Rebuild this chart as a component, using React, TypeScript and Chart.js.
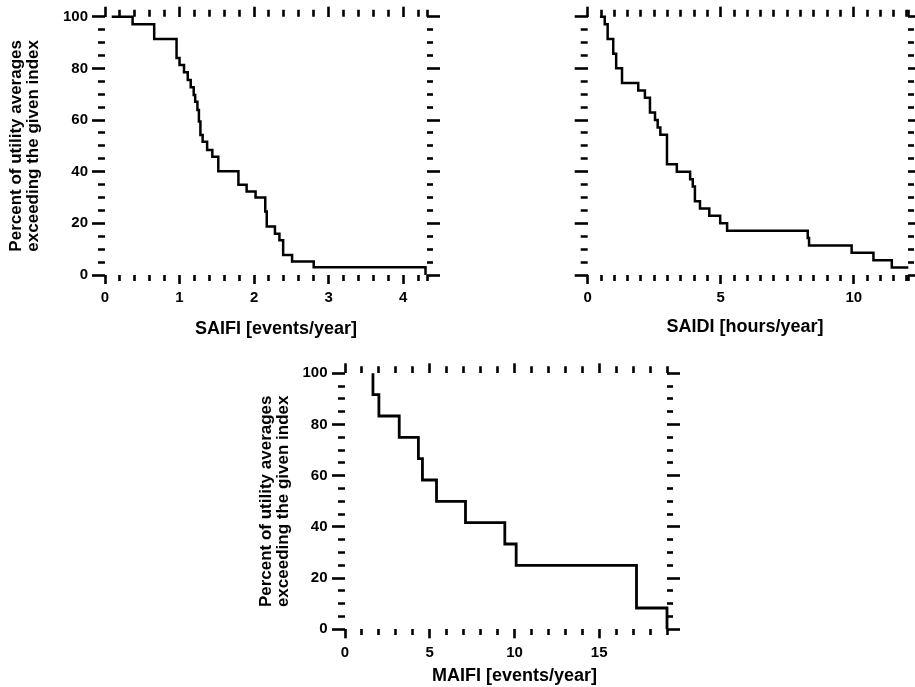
import React, { useEffect, useRef } from "react";
import { Chart, registerables } from "chart.js";

Chart.register(...registerables);

const FONT = "'Liberation Sans', Arial, Helvetica, sans-serif";
const INK = "#000000";

// ---- Data ----
const saifiX = [0.09, 0.37, 0.66, 0.96, 1.0, 1.06, 1.11, 1.15, 1.19, 1.21, 1.24, 1.26, 1.28, 1.31, 1.37, 1.44, 1.52, 1.79, 1.9, 2.02, 2.15, 2.17, 2.28, 2.34, 2.39, 2.51, 2.8, 4.3];
const saifiY = [100, 97.1, 91.4, 84.0, 81.3, 78.5, 75.5, 72.7, 69.7, 67.1, 63.9, 59.4, 54.2, 51.6, 48.4, 45.8, 40.2, 34.9, 32.3, 30.0, 24.6, 18.8, 16.0, 13.5, 7.7, 5.2, 3.0, 0];

const saidiX = [0.46, 0.64, 0.75, 0.96, 1.07, 1.29, 1.9, 2.15, 2.34, 2.53, 2.63, 2.73, 2.98, 3.35, 3.85, 3.95, 4.03, 4.22, 4.57, 4.98, 5.24, 8.27, 8.32, 9.92, 10.74, 11.43, 12.05];
const saidiY = [100, 97.1, 91.4, 85.7, 80.0, 74.3, 71.4, 68.6, 62.9, 60.0, 57.1, 54.3, 42.9, 40.0, 37.1, 34.3, 28.6, 25.7, 22.9, 20.0, 17.1, 14.3, 11.4, 8.6, 5.7, 2.9, 2.9];

const maifiX = [1.65, 1.65, 2.0, 3.2, 4.33, 4.57, 5.4, 7.11, 9.43, 10.1, 17.2, 19.0];
const maifiY = [100, 91.67, 83.33, 75, 66.67, 58.33, 50, 41.67, 33.33, 25, 8.33, 0];

const yTitleLines = ["Percent of utility averages", "exceeding the given index"];
const yMax = 100;
const yMinorStep = 5;
const yMajorStep = 20;

function makeTicks(min: number, max: number, step: number): number[] {
  const out: number[] = [];
  for (let i = 0; min + i * step <= max + 1e-9; i++) {
    out.push(Math.round((min + i * step) * 1e6) / 1e6);
  }
  if (Math.abs(out[out.length - 1] - max) > 1e-6) out.push(max);
  return out;
}

const isMaj = (v: number, s: number) => Math.abs(v / s - Math.round(v / s)) < 1e-6;

type Cfg = {
  left: number; top: number; w: number; h: number;
  padLeft: number;
  yWidth: number; y2Width: number; x2Height: number; xHeight: number;
  titlePadBottom: number;
  xMax: number; xMinor: number; xMajor: number;
  yLabelPad: number; xLabelPad: number;
  yTitle: boolean; yTitlePad: number;
  xTitle: string;
  xs: number[]; ys: number[];
  lineWidth: number;
};

function Panel({ cfg }: { cfg: Cfg }) {
  const ref = useRef<HTMLCanvasElement>(null);
  useEffect(() => {
    const c = cfg;
    const xTicks = makeTicks(0, c.xMax, c.xMinor);
    const yTicks = makeTicks(0, yMax, yMinorStep);
    const setTicks = (vals: number[]) => (s: any) => {
      s.ticks = vals.map((v) => ({ value: v }));
    };
    const tickFont = { family: FONT, size: 15, weight: "bold" as const, lineHeight: 1.2 };
    const dash = (major: number, len: number, minor: number, outerStart: boolean) => (ctx: any) => {
      const v = ctx && ctx.tick ? ctx.tick.value : 0;
      if (isMaj(v, major)) return [];
      return outerStart ? [0, len - minor, minor, 60] : [minor, 60];
    };
    const TW = 2.6;
    const chart = new Chart(ref.current as HTMLCanvasElement, {
      type: "line",
      data: {
        datasets: [
          {
            data: c.xs.map((x, i) => ({ x, y: c.ys[i] })),
            stepped: true,
            borderColor: INK,
            borderWidth: c.lineWidth,
            pointRadius: 0,
            pointHoverRadius: 0,
            fill: false,
            clip: 4,
          } as any,
        ],
      },
      options: {
        responsive: false,
        animation: false,
        devicePixelRatio: 1,
        events: [],
        layout: { padding: { left: c.padLeft, right: 0, top: 0, bottom: 0 } },
        plugins: {
          legend: { display: false },
          tooltip: { enabled: false },
          title: {
            display: true,
            position: "bottom",
            text: c.xTitle,
            color: INK,
            font: { family: FONT, size: 18, weight: "bold", lineHeight: 1.2 },
            padding: { top: 0, bottom: c.titlePadBottom },
          },
        },
        scales: {
          x: {
            type: "linear",
            position: "bottom",
            min: 0,
            max: c.xMax,
            afterBuildTicks: setTicks(xTicks),
            afterFit: (s: any) => { s.height = c.xHeight; },
            border: { display: false },
            grid: {
              display: true, drawOnChartArea: false, drawTicks: true,
              tickLength: 9, tickWidth: TW, tickColor: INK,
              tickBorderDash: dash(c.xMajor, 9, 6, false),
            },
            ticks: {
              autoSkip: false, maxRotation: 0, minRotation: 0,
              padding: c.xLabelPad, color: INK, font: tickFont,
              callback: (v: any) => (isMaj(Number(v), c.xMajor) ? String(Number(v)) : ""),
            },
          },
          x2: {
            type: "linear",
            position: "top",
            min: 0,
            max: c.xMax,
            afterBuildTicks: setTicks(xTicks),
            afterFit: (s: any) => { s.height = c.x2Height; },
            border: { display: false },
            grid: {
              display: true, drawOnChartArea: false, drawTicks: true,
              tickLength: 10, tickWidth: TW, tickColor: INK,
              tickBorderDash: dash(c.xMajor, 10, 7, true),
            },
            ticks: { display: false, autoSkip: false },
          },
          y: {
            type: "linear",
            position: "left",
            min: 0,
            max: yMax,
            afterBuildTicks: setTicks(yTicks),
            afterFit: (s: any) => { s.width = c.yWidth; },
            border: { display: false },
            grid: {
              display: true, drawOnChartArea: false, drawTicks: true,
              tickLength: 13, tickWidth: TW, tickColor: INK,
              tickBorderDash: dash(yMajorStep, 13, 7, true),
            },
            ticks: {
              autoSkip: false, padding: c.yLabelPad, color: INK, font: tickFont,
              callback: (v: any) => (isMaj(Number(v), yMajorStep) ? String(Number(v)) : ""),
            },
            title: c.yTitle
              ? {
                  display: true,
                  text: yTitleLines,
                  color: INK,
                  font: { family: FONT, size: 17, weight: "bold", lineHeight: 1.0 },
                  padding: { top: c.yTitlePad, bottom: 0 },
                }
              : { display: false },
          },
          y2: {
            type: "linear",
            position: "right",
            min: 0,
            max: yMax,
            afterBuildTicks: setTicks(yTicks),
            afterFit: (s: any) => { s.width = c.y2Width; },
            border: { display: false },
            grid: {
              display: true, drawOnChartArea: false, drawTicks: true,
              tickLength: 13, tickWidth: TW, tickColor: INK,
              tickBorderDash: dash(yMajorStep, 13, 6, false),
            },
            ticks: { display: false, autoSkip: false },
          },
        },
      } as any,
    });
    return () => chart.destroy();
  }, []);
  return (
    <canvas
      ref={ref}
      width={cfg.w}
      height={cfg.h}
      style={{ position: "absolute", left: cfg.left, top: cfg.top, width: cfg.w, height: cfg.h }}
    />
  );
}

const panel1: Cfg = {
  left: 0, top: 0, w: 552, h: 345, padLeft: 0,
  yWidth: 105, y2Width: 125, x2Height: 16.7, xHeight: 43.2, titlePadBottom: 5.2,
  xMax: 4.32, xMinor: 0.2, xMajor: 1,
  yLabelPad: 4, xLabelPad: 4.5, yTitle: true, yTitlePad: 7.5,
  xTitle: "SAIFI [events/year]", xs: saifiX, ys: saifiY, lineWidth: 2.5,
};

const panel2: Cfg = {
  left: 455, top: 0, w: 460, h: 345, padLeft: 120,
  yWidth: 12.7, y2Width: 6.7, x2Height: 16.7, xHeight: 41.7, titlePadBottom: 6.7,
  xMax: 12.05, xMinor: 0.5, xMajor: 5,
  yLabelPad: 6, xLabelPad: 4.5, yTitle: false, yTitlePad: 0,
  xTitle: "SAIDI [hours/year]", xs: saidiX, ys: saidiY, lineWidth: 2.5,
};

const panel3: Cfg = {
  left: 240, top: 330, w: 549, h: 357, padLeft: 0,
  yWidth: 105, y2Width: 122, x2Height: 43.3, xHeight: 36.1, titlePadBottom: 0,
  xMax: 19, xMinor: 1, xMajor: 5,
  yLabelPad: 4.5, xLabelPad: 5.8, yTitle: true, yTitlePad: 17.5,
  xTitle: "MAIFI [events/year]", xs: maifiX, ys: maifiY, lineWidth: 2.8,
};

export default function App() {
  return (
    <div
      style={{
        position: "absolute", left: 0, top: 0, width: 915, height: 687,
        overflow: "hidden", background: "#ffffff",
      }}
    >
      <Panel cfg={panel1} />
      <Panel cfg={panel2} />
      <Panel cfg={panel3} />
    </div>
  );
}
